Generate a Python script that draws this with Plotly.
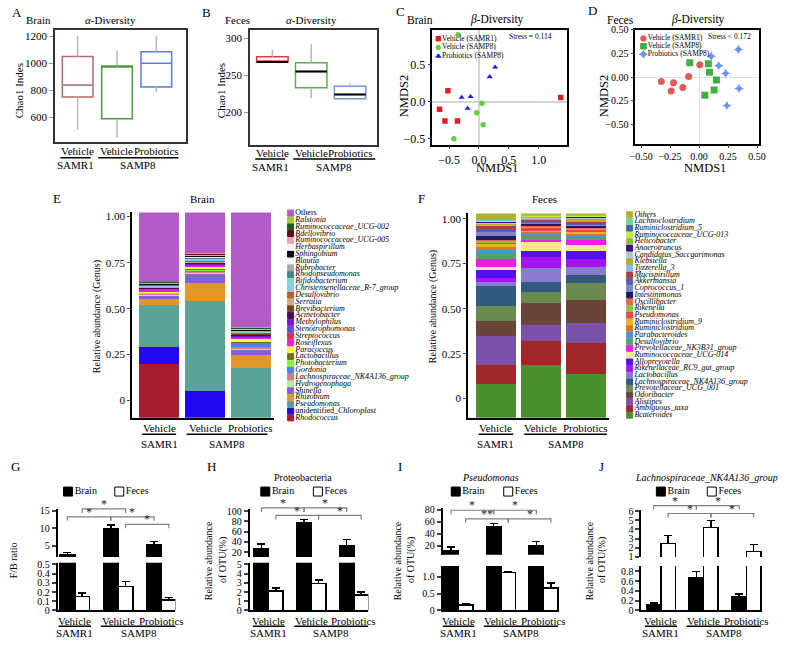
import plotly.graph_objects as go

W, H = 787, 645
SERIF = "Liberation Serif"

# ---------------- data ----------------
treatments = ["Vehicle", "Vehicle", "Probiotics"]
strains = ["SAMR1", "SAMP8"]
fractions = ["Brain", "Feces"]

# A/B: Chao1 index box statistics (low whisker, q1, median, q3, high whisker)
chao_brain_low = [510, 450, 785]
chao_brain_q1 = [750, 590, 825]
chao_brain_med = [840, 975, 1000]
chao_brain_q3 = [1050, 980, 1085]
chao_brain_high = [1205, 1095, 1200]

chao_feces_low = [268, 219, 218]
chao_feces_q1 = [268, 233, 218]
chao_feces_med = [268, 255, 224]
chao_feces_q3 = [275, 267, 235]
chao_feces_high = [285, 292, 239]

# C/D: NMDS ordination
nmds_groups = ["Vehicle (SAMR1)", "Vehicle (SAMP8)", "Probiotics (SAMP8)"]
brain_samr1_x = [-0.52, -0.66, -0.57, -0.36, 1.37]
brain_samr1_y = [0.15, -0.10, -0.26, -0.26, 0.06]
brain_samp8_x = [-0.35, 0.05, -0.04, 0.07, -0.42]
brain_samp8_y = [0.91, -0.02, -0.15, -0.31, -0.50]
brain_prob_x = [-0.29, -0.14, -0.19, 0.18, 0.27]
brain_prob_y = [0.06, 0.07, -0.09, 0.34, 0.47]

feces_samr1_x = [-0.325, -0.22, -0.24, -0.14, -0.09, 0.007]
feces_samr1_y = [-0.046, -0.06, -0.146, -0.11, 0.005, 0.13]
feces_samp8_x = [-0.08, 0.08, 0.09, 0.15, 0.13, 0.05]
feces_samp8_y = [0.15, 0.14, 0.05, -0.03, -0.136, -0.19]
feces_prob_x = [0.105, 0.34, 0.17, 0.23, 0.345, 0.24]
feces_prob_y = [0.22, 0.29, 0.12, 0.04, -0.12, -0.30]

# E: brain genus composition, stacking order bottom -> top
brain_genus = ["Rhodococcus", "unidentified_Chloroplast", "Pseudomonas", "Rhizobium", "Shinella",
               "Hydrogenophaga", "Lachnospiraceae_NK4A136_group", "Gordonia", "Photobacterium",
               "Lactobacillus", "Paracoccus", "Roseiflexus", "Streptococcus", "Stenotrophomonas",
               "Methylophilus", "Acinetobacter", "Brevibacterium", "Serratia", "Desulfovibrio",
               "Christensenellaceae_R-7_group", "Bifidobacterium", "Rhodopseudomonas", "Rubrobacter",
               "Blautia", "Sphingobium", "Herbaspirillum", "Ruminococcaceae_UCG-005", "Bdellovibrio",
               "Ruminococcaceae_UCG-002", "Ralstonia", "Others"]
brain_samr1 = [0.260, 0.084, 0.203, 0.030, 0.018, 0.004, 0.002, 0.004, 0.002, 0.002, 0.004, 0.008,
               0.002, 0.003, 0.003, 0.002, 0.002, 0.002, 0.003, 0.002, 0.002, 0.003, 0.002, 0.002,
               0.003, 0.002, 0.002, 0.003, 0.002, 0.002, 0.337]
brain_vehicle = [0.000, 0.132, 0.439, 0.083, 0.045, 0.008, 0.003, 0.004, 0.006, 0.004, 0.010, 0.004,
                 0.003, 0.004, 0.004, 0.003, 0.003, 0.004, 0.004, 0.005, 0.004, 0.005, 0.003, 0.003,
                 0.004, 0.003, 0.003, 0.004, 0.003, 0.003, 0.197]
brain_probiotics = [0.000, 0.000, 0.242, 0.064, 0.027, 0.002, 0.008, 0.022, 0.002, 0.003, 0.015, 0.003,
                    0.003, 0.003, 0.004, 0.006, 0.003, 0.002, 0.003, 0.003, 0.002, 0.003, 0.002, 0.002,
                    0.003, 0.002, 0.002, 0.004, 0.002, 0.004, 0.559]
brain_colors = ["#a81c32", "#2208f0", "#5ba396", "#e0982a", "#8460d0", "#aef0a0", "#d87c7c", "#4a82f0",
                "#8cf040", "#6e6e1e", "#fafa3c", "#e61ee6", "#d2325e", "#5a50dc", "#7a14c8", "#4e0a4e",
                "#7a4026", "#c8aa84", "#b4602c", "#90c4ea", "#78dcc8", "#4c8282", "#aaaaaa", "#eef4fa",
                "#0a0a0a", "#f2f6fc", "#eaa4ac", "#5c1212", "#1e5c1e", "#9ccc34", "#b45ac8"]

# F: feces genus composition, stacking order bottom -> top
feces_genus = ["Bcateroides", "Ambiguous_taxa", "Alistipes", "Odoribacter", "Prevotellaceae_UCG_001",
               "Lachnospiraceae_NK4A136_group", "Lactobacillus", "Rikenellaceae_RC9_gut_group",
               "Alloprevotella", "Ruminococcaceae_UCG-014", "Prevotellaceae_NK3B31_group", "Desulfovibrio",
               "Parabacteroides", "Ruminiclostridium", "Ruminiclostridium_9", "Pseudomonas", "Rikenella",
               "Oscillibacter", "Intestinimonas", "Coprococcus_1", "Akkermansia", "Mucispirillum",
               "Tyzzerella_3", "Klebsiella", "Candidatus_Saccgarimonas", "Anaerotruncus", "Helicobacter",
               "Ruminococcaceae_UCG-013", "Ruminiclostridium_5", "Lachnoclostridium", "Others"]
feces_samr1 = [0.165, 0.091, 0.145, 0.072, 0.075, 0.096, 0.021, 0.019, 0.037, 0.018, 0.037, 0.025,
               0.021, 0.015, 0.012, 0.007, 0.009, 0.007, 0.019, 0.016, 0.019, 0.010, 0.010, 0.004,
               0.003, 0.004, 0.003, 0.002, 0.003, 0.002, 0.033]
feces_vehicle = [0.256, 0.120, 0.076, 0.112, 0.051, 0.050, 0.066, 0.057, 0.027, 0.044, 0.009, 0.019,
                 0.013, 0.010, 0.006, 0.015, 0.005, 0.005, 0.006, 0.008, 0.006, 0.005, 0.004, 0.004,
                 0.003, 0.003, 0.003, 0.003, 0.004, 0.003, 0.008]
feces_probiotics = [0.213, 0.152, 0.097, 0.115, 0.082, 0.038, 0.040, 0.042, 0.035, 0.032, 0.023, 0.012,
                    0.008, 0.010, 0.008, 0.010, 0.006, 0.007, 0.008, 0.006, 0.006, 0.006, 0.004, 0.015,
                    0.003, 0.004, 0.003, 0.002, 0.003, 0.002, 0.010]
feces_colors = ["#4a902e", "#a0282a", "#7a52aa", "#6a4438", "#6a8a50", "#325a80", "#8a7ccc", "#a414f0",
                "#5410f0", "#f2ea92", "#ea1eea", "#5aa06a", "#4a92e0", "#e27220", "#e8b222", "#e04a4a",
                "#8ac24a", "#e26a52", "#201a5e", "#8282ca", "#5262b2", "#a84242", "#8abae8", "#b8aa32",
                "#aacaca", "#3c1282", "#8ac232", "#d2e242", "#3c6ca8", "#7ad292", "#b0b032"]

# G-J: mean and SD per group
fb_brain, fb_brain_sd = [2.45, 9.7, 5.2], [0.6, 1.2, 1.0]
fb_feces, fb_feces_sd = [0.149, 0.262, 0.113], [0.04, 0.05, 0.025]
proteo_brain, proteo_brain_sd = [26, 78, 32], [10, 6, 13]
proteo_feces, proteo_feces_sd = [2.13, 2.94, 1.70], [0.3, 0.35, 0.3]
pseudo_brain, pseudo_brain_sd = [12, 52, 19], [6, 5, 8]
pseudo_feces, pseudo_feces_sd = [0.16, 1.12, 0.66], [0.03, 0.04, 0.16]
lachno_brain, lachno_brain_sd = [0.11, 0.67, 0.27], [0.04, 0.12, 0.07]
lachno_feces, lachno_feces_sd = [2.45, 4.2, 1.6], [0.9, 0.8, 0.75]

# ---------------- helpers ----------------
fig = go.Figure()
layout = dict(width=W, height=H, margin=dict(l=0, r=0, t=0, b=0), paper_bgcolor="white",
              plot_bgcolor="rgba(0,0,0,0)", showlegend=False, barmode="stack", hovermode=False,
              font=dict(family=SERIF, size=11, color="black"))
annotations, shapes = [], []
n_axes = [0]


def X(p):
    return p / W


def Y(p):
    return 1 - p / H


def add_axes(x0, x1, y0, y1, xa=None, ya=None):
    n_axes[0] += 1
    s = "" if n_axes[0] == 1 else str(n_axes[0])
    base = dict(showgrid=False, zeroline=False, showline=False, ticks="", showticklabels=False,
                fixedrange=True, tickfont=dict(family=SERIF, size=11, color="black"))
    xd = dict(base, domain=[X(x0), X(x1)], anchor="y" + s)
    yd = dict(base, domain=[Y(y1), Y(y0)], anchor="x" + s)
    xd.update(xa or {})
    yd.update(ya or {})
    layout["xaxis" + s] = xd
    layout["yaxis" + s] = yd
    return "x" + s, "y" + s


def text(x, y, s, size=11, xref="paper", xanchor="center", angle=0, color="black"):
    annotations.append(dict(x=X(x) if xref == "paper" else x, y=Y(y), xref=xref, yref="paper", text=s,
                            showarrow=False, xanchor=xanchor, yanchor="middle", textangle=angle,
                            font=dict(family=SERIF, size=size, color=color)))


def hline(xr, xa, xb, y, color="black", width=1.5):
    shapes.append(dict(type="line", xref=xr, yref="paper", x0=xa, x1=xb, y0=Y(y), y1=Y(y),
                       line=dict(color=color, width=width)))


def group_labels(xr, centers, y_text, y_line, y_strain, span1, span2):
    for c, t in zip(centers, treatments):
        text(c, y_text, t, xref=xr)
    a0, a1 = centers[0] + span1[0], centers[0] + span1[1]
    b0, b1 = centers[1] + span2[0], centers[2] + span2[1]
    hline(xr, a0, a1, y_line)
    hline(xr, b0, b1, y_line)
    text((a0 + a1) / 2, y_strain, strains[0], xref=xr)
    text((b0 + b1) / 2, y_strain, strains[1], xref=xr)


def key(x0, x1, y0, y1, xs, ys, labels, colors, symbols, msize, fsize, xrng, yrng, line_colors=None):
    xr, yr = add_axes(x0, x1, y0, y1, dict(range=xrng), dict(range=yrng))
    fig.add_trace(go.Scatter(x=xs, y=ys, mode="markers+text", text=labels, textposition="middle right",
                             textfont=dict(family=SERIF, size=fsize, color="black"),
                             marker=dict(size=msize, color=colors, symbol=symbols,
                                         line=dict(color=line_colors or colors, width=1)),
                             cliponaxis=False, xaxis=xr, yaxis=yr, hoverinfo="skip"))


frame = dict(showline=True, mirror=True, linewidth=2)


def box_panel(xr, yr, low, q1, med, q3, high, colors, med_color=None, width=0.78):
    for i, c in enumerate(colors):
        pos = i + 1
        fig.add_trace(go.Scatter(x=[pos, pos, None, pos, pos], y=[low[i], q1[i], None, q3[i], high[i]],
                                 mode="lines", line=dict(color="#b8b8b8", width=1.5),
                                 xaxis=xr, yaxis=yr, hoverinfo="skip"))
        fig.add_trace(go.Box(x=[pos], q1=[q1[i]], median=[med[i]], q3=[q3[i]], lowerfence=[q1[i]],
                             upperfence=[q3[i]], width=width, orientation="v", whiskerwidth=0,
                             line=dict(color=c, width=1.5), fillcolor="white", xaxis=xr, yaxis=yr))
        if med_color:
            fig.add_trace(go.Scatter(x=[pos - width / 2, pos + width / 2], y=[med[i], med[i]], mode="lines",
                                     line=dict(color=med_color, width=2), xaxis=xr, yaxis=yr))


# ---------------- A ----------------
xa_, ya_ = add_axes(50, 183, 25, 139,
                    dict(frame, range=[0.43, 3.76], linecolor="#333"),
                    dict(frame, range=[420, 1250], linecolor="#333", ticks="outside", ticklen=4,
                         tickcolor="#999", showticklabels=True, tickvals=[600, 800, 1000, 1200]))
box_panel(xa_, ya_, chao_brain_low, chao_brain_q1, chao_brain_med, chao_brain_q3, chao_brain_high,
          ["#b26c6a", "#4c9c3c", "#5c7ae0"])
group_labels(xa_, [1, 2, 3], 149, 155.3, 162.5, (-0.44, 0.33), (-0.475, 0.56))
text(4, 8, "A", 13, xanchor="left")
text(33, 15, "Brain")
text(106, 15, "<i>α</i>-Diversity")
text(13, 87, "Chao1 Indes", 11, angle=-90)

# ---------------- B ----------------
xb_, yb_ = add_axes(248, 377, 25, 142,
                    dict(frame, range=[0.43, 3.7], linecolor="#333"),
                    dict(frame, range=[156, 312], linecolor="#333", ticks="outside", ticklen=4,
                         tickcolor="#999", showticklabels=True, tickvals=[200, 250, 300]))
box_panel(xb_, yb_, chao_feces_low, chao_feces_q1, chao_feces_med, chao_feces_q3, chao_feces_high,
          ["#d84040", "#5ab04a", "#7a94e0"], med_color="black", width=0.81)
group_labels(xb_, [1, 2, 3], 150.5, 156.7, 165, (-0.44, 0.33), (-0.46, 0.65))
text(197, 8, "B", 13, xanchor="left")
text(235, 15, "Feces")
text(310, 15, "<i>α</i>-Diversity")
text(218, 87, "Chao1 Indes", 11, angle=-90)

# ---------------- C ----------------
xc_, yc_ = add_axes(433, 570, 25, 142,
                    dict(frame, linewidth=1.5, linecolor="black", range=[-0.78, 1.48], ticks="outside",
                         ticklen=3, showticklabels=True, tickvals=[-0.5, 0, 0.5, 1.0], tickformat=".1f",
                         tickfont=dict(family=SERIF, size=12), zeroline=True, zerolinecolor="#d4d4d4",
                         zerolinewidth=2),
                    dict(frame, linewidth=1.5, linecolor="black", range=[-0.58, 0.98], ticks="outside",
                         ticklen=3, showticklabels=True, tickvals=[-0.5, 0, 0.5], tickformat=".1f",
                         tickfont=dict(family=SERIF, size=12), zeroline=True, zerolinecolor="#d4d4d4",
                         zerolinewidth=2))
for gx, gy, col, sym in [(brain_samr1_x, brain_samr1_y, "#e02020", "square"),
                         (brain_samp8_x, brain_samp8_y, "#60d040", "circle"),
                         (brain_prob_x, brain_prob_y, "#2020e8", "triangle-up")]:
    fig.add_trace(go.Scatter(x=gx, y=gy, mode="markers", marker=dict(color=col, symbol=sym, size=5.5),
                             xaxis=xc_, yaxis=yc_))
key(439, 500, 29.9, 56.4, [0, 0, 0], [2, 1, 0], nmds_groups, ["#e02020", "#60d040", "#2020e8"],
    ["square", "circle", "triangle-up"], 4.5, 7.5, [0, 1], [-0.5, 2.5])
text(533, 32, "Stress = 0.114", 7.5)
text(394, 7, "C", 13, xanchor="left")
text(420, 15, "Brain", 11.5)
text(499, 15, "<i>β</i>-Diversity", 11.5)
text(405, 93, "NMDS2", 12.5, angle=-90)
text(499, 166, "NMDS1", 12.5)

# ---------------- D ----------------
xd_, yd_ = add_axes(639, 765, 25, 141,
                    dict(frame, linewidth=1.5, linecolor="black", range=[-0.55, 0.52], ticks="outside",
                         ticklen=3, showticklabels=True, tickvals=[-0.5, -0.25, 0, 0.25, 0.5],
                         tickformat=".2f", tickfont=dict(family=SERIF, size=10), zeroline=True,
                         zerolinecolor="#e0e0e0", zerolinewidth=1),
                    dict(frame, linewidth=1.5, linecolor="black", range=[-0.70, 0.50], ticks="outside",
                         ticklen=3, showticklabels=True, tickvals=[-0.5, -0.25, 0, 0.25, 0.5],
                         tickformat=".2f", tickfont=dict(family=SERIF, size=10), zeroline=True,
                         zerolinecolor="#e0e0e0", zerolinewidth=1))
for gx, gy, col, sym in [(feces_samr1_x, feces_samr1_y, "#e05a5a", "circle"),
                         (feces_samp8_x, feces_samp8_y, "#40b040", "square"),
                         (feces_prob_x, feces_prob_y, "#6a94f4", "star-diamond")]:
    fig.add_trace(go.Scatter(x=gx, y=gy, mode="markers", marker=dict(color=col, symbol=sym, size=7),
                             xaxis=xd_, yaxis=yd_))
key(647.3, 700, 30, 54, [0, 0, 0], [2, 1, 0], nmds_groups, ["#e05a5a", "#40b040", "#6a94f4"],
    ["circle", "square", "star-diamond"], 5.5, 7.5, [0, 1], [-0.5, 2.5])
text(735, 32, "Stress < 0.172", 7.5)
text(589, 6, "D", 13, xanchor="left")
text(624, 15, "Feces", 11.5)
text(703, 15, "<i>β</i>-Diversity", 11.5)
text(608, 93, "NMDS2", 12.5, angle=-90)
text(710, 166, "NMDS1", 12.5)


# ---------------- E / F ----------------
def stack_panel(x0, x1, y0, y1, xrng, width, genus, cols, g1, g2, g3, tickpos):
    xr, yr = add_axes(x0, x1, y0, y1,
                      dict(range=xrng, showline=True, linecolor="black", linewidth=1.5),
                      dict(range=[0, 1], showline=True, linecolor="black", linewidth=1.5, ticks="outside",
                           ticklen=3, showticklabels=True, tickvals=tickpos,
                           ticktext=["0", "0.25", "0.50", "0.75", "1.00"]))
    for i, name in enumerate(genus):
        fig.add_trace(go.Bar(x=[0, 1, 2], y=[g1[i], g2[i], g3[i]], width=width,
                             marker=dict(color=cols[i], line=dict(width=0)), name=name, xaxis=xr, yaxis=yr))
    return xr


xe_ = stack_panel(128, 272, 211, 420, [-0.59, 2.5], 0.88, brain_genus, brain_colors,
                  brain_samr1, brain_vehicle, brain_probiotics, [0.085, 0.308, 0.531, 0.755, 0.981])
group_labels(xe_, [0, 1, 2], 430, 436.7, 446.5, (-0.37, 0.37), (-0.4, 0.36))
e_labels = [g if g == "Others" else
            ("unidentified_<i>Chloroplast</i>" if g.startswith("unidentified_") else "<i>%s</i>" % g)
            for g in brain_genus]
key(289, 385, 208.2, 423.5, [0] * len(brain_genus), list(range(len(brain_genus))), e_labels, brain_colors,
    "square", 6, 8, [0, 1], [-0.5, len(brain_genus) - 0.5])
text(52, 197, "E", 13)
text(200, 197, "Brain", 11)
text(92, 317, "Relative abundance (Genus)", 10, angle=-90)

xf_ = stack_panel(469, 612, 212, 420, [-0.626, 2.51], 0.9, feces_genus, feces_colors,
                  feces_samr1, feces_vehicle, feces_probiotics, [0.096, 0.3125, 0.534, 0.756, 0.973])
group_labels(xf_, [0, 1, 2], 430, 436.7, 446.5, (-0.385, 0.385), (-0.37, 0.47))
key(633.3, 730, 209.9, 420.7, [0] * len(feces_genus), list(range(len(feces_genus))),
    ["<i>%s</i>" % g for g in feces_genus], feces_colors, "square", 6, 8, [0, 1],
    [-0.5, len(feces_genus) - 0.5])
text(422, 197, "F", 13)
text(547, 197, "Feces", 11)
text(433, 307, "Relative abundance (Genus)", 10, angle=-90)

# ---------------- G-J (broken axes) ----------------
panels = [
    dict(letter=("G", 3), x=(52.3, 172), xr=[-0.40, 2.32], up=(512.7, 561.7), ur=[1.72, 15.45],
         ut=[5, 10, 15], utt=["5", "10", "15"], lo=(567.3, 616), lr=[0, 0.518],
         lt=[0, 0.1, 0.2, 0.3, 0.4, 0.5], ltt=["0", "0.1", "0.2", "0.3", "0.4", "0.5"], key=(63, 115),
         title=None, ytitle=[(7, "F/B ratio")],
         br=[(0, "f", 1, "f", 512.7, "*"), (0, "b", 1, "b", 520.7, "*"), (1, "b", 2, "b", 520.7, "*"),
             (1, "f", 2, "f", 528.3, "*")],
         data=(fb_brain, fb_brain_sd, fb_feces, fb_feces_sd)),
    dict(letter=("H", 202), x=(247.3, 368), xr=[-0.45, 2.34], up=(512.7, 561.7), ur=[10.4, 104.4],
         ut=[20, 40, 60, 80, 100], utt=["20", "40", "60", "80", "100"], lo=(567.3, 616), lr=[0, 5.18],
         lt=[0, 1, 2, 3, 4, 5], ltt=["0", "1", "2", "3", "4", "5"], key=(263.3, 316.7),
         title=(301.7, "Proteobacteria"), ytitle=[(205, "Relative abundance"), (221, "of OTU(%)")],
         br=[(0, "b", 1, "b", 511.7, "*"), (0, "f", 1, "f", 519.3, "*"), (1, "b", 2, "b", 511.7, "*"),
             (1, "f", 2, "f", 519.3, "*")],
         data=(proteo_brain, proteo_brain_sd, proteo_feces, proteo_feces_sd)),
    dict(letter=("I", 396), x=(443.3, 562), xr=[-0.37, 2.37], up=(511.7, 559.3), ur=[4.8, 82.6],
         ut=[20, 40, 60, 80], utt=["20", "40", "60", "80"], lo=(570.7, 616), lr=[0, 1.32],
         lt=[0, 0.5, 1.0], ltt=["0", "0.5", "1.0"], key=(456.7, 510),
         title=(491.7, "<i>Pseudomonas</i>"), ytitle=[(397, "Relative abundance"), (412, "of OTU(%)")],
         br=[(0, "b", 1, "b", 514, "*"), (0, "f", 1, "f", 522.7, "**"), (1, "b", 2, "b", 514, "*"),
             (1, "f", 2, "f", 522.7, "*")],
         data=(pseudo_brain, pseudo_brain_sd, pseudo_feces, pseudo_feces_sd)),
    dict(letter=("J", 600), x=(645, 768), xr=[-0.46, 2.37], up=(513.3, 561.7), ur=[0.98, 6.18],
         ut=[1, 2, 3, 4, 5, 6], utt=["1", "2", "3", "4", "5", "6"], lo=(570.7, 616), lr=[0, 0.906],
         lt=[0, 0.2, 0.4, 0.6, 0.8], ltt=["0", "0.2", "0.4", "0.6", "0.8"], key=(665, 716.7),
         title=(711, "<i>Lachnospiraceae_NK4A136_group</i>"),
         ytitle=[(592, "Relative abundance"), (606, "of OTU(%)")],
         br=[(0, "b", 1, "b", 509.3, "*"), (0, "f", 1, "f", 517.3, "*"), (1, "b", 2, "b", 509.3, "*"),
             (1, "f", 2, "f", 517.3, "*")],
         data=(lachno_brain, lachno_brain_sd, lachno_feces, lachno_feces_sd)),
]

half = 0.17
yax = dict(showline=True, linecolor="black", linewidth=1.5, ticks="outside", ticklen=4, tickwidth=1.5,
           showticklabels=True, tickfont=dict(family=SERIF, size=10))
for p in panels:
    brain, brain_sd, feces, feces_sd = p["data"]
    xu, yu = add_axes(p["x"][0], p["x"][1], p["up"][0], p["up"][1], dict(range=p["xr"]),
                      dict(yax, range=p["ur"], tickvals=p["ut"], ticktext=p["utt"]))
    xl, yl = add_axes(p["x"][0], p["x"][1], p["lo"][0], p["lo"][1],
                      dict(range=p["xr"], showline=True, linecolor="black", linewidth=1.5),
                      dict(yax, range=p["lr"], tickvals=p["lt"], ticktext=p["ltt"]))
    xb = [i - half for i in range(len(brain))]
    xf = [i + half for i in range(len(feces))]
    for xr, yr in ((xu, yu), (xl, yl)):
        fig.add_trace(go.Bar(x=xb, y=brain, width=2 * half, xaxis=xr, yaxis=yr, name="Brain",
                             marker=dict(color="black", line=dict(color="black", width=1.5)),
                             error_y=dict(type="data", symmetric=False, array=brain_sd,
                                          arrayminus=[0] * len(brain_sd), color="black", thickness=1.5,
                                          width=4)))
        fig.add_trace(go.Bar(x=xf, y=feces, width=2 * half, xaxis=xr, yaxis=yr, name="Feces",
                             marker=dict(color="white", line=dict(color="black", width=1.5)),
                             error_y=dict(type="data", symmetric=False, array=feces_sd,
                                          arrayminus=[0] * len(feces_sd), color="black", thickness=1.5,
                                          width=4)))
    off = {"b": -half, "f": half}
    for ga, ka, gb, kb, yb, lab in p["br"]:
        xa0, xb0 = ga + off[ka], gb + off[kb]
        shapes.append(dict(type="path", xref=xu, yref="paper",
                           path="M %f,%f L %f,%f L %f,%f L %f,%f" % (xa0, Y(yb + 4), xa0, Y(yb), xb0, Y(yb),
                                                                   xb0, Y(yb + 4)),
                           line=dict(color="#808080", width=1.2)))
        text((xa0 + xb0) / 2, yb - 5, lab, 12, xref=xu, color="#222")
    group_labels(xl, [0, 1, 2], 626.2, 632, 638.7, (-0.375, 0.375), (-0.4, 0.34))
    key(p["key"][0], p["key"][1], 490, 500, [0, 1], [0, 0], fractions, ["black", "white"],
        ["square", "square"], 9, 10, [0, 1], [-1, 1], line_colors=["black", "black"])
    text(p["letter"][1], 470, p["letter"][0], 13, xanchor="left")
    if p["title"]:
        text(p["title"][0], 481, p["title"][1], 10)
    for tx, tt in p["ytitle"]:
        text(tx, 565, tt, 10, angle=-90)

layout["annotations"] = annotations
layout["shapes"] = shapes
fig.update_layout(**layout)
# the page body has a default 8px margin; drop it so the figure sits at the window's top-left corner
fig.write_html("out.html", config={"displayModeBar": False},
               post_script="document.body.style.margin='0';")
